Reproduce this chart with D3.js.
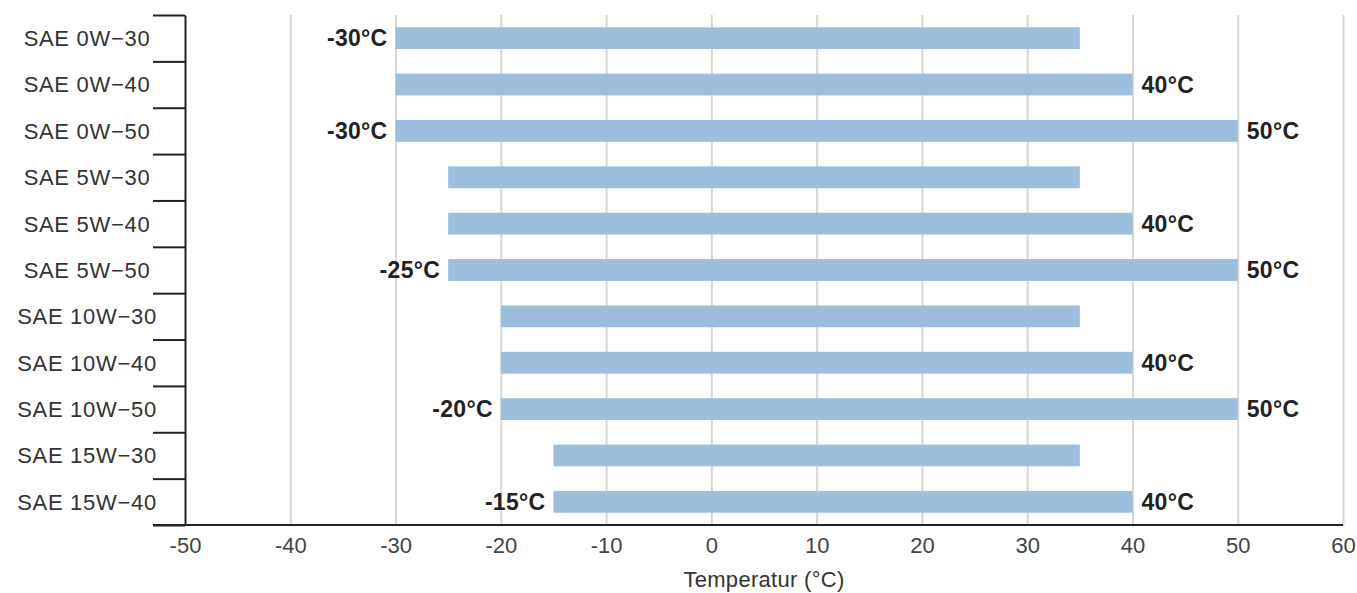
<!DOCTYPE html>
<html>
<head>
<meta charset="utf-8">
<script src="https://cdn.jsdelivr.net/npm/d3@7"></script>
<style>
  body { margin: 0; background: #fff; }
  text { font-family: "Liberation Sans", Arial, sans-serif; }
</style>
</head>
<body>
<svg id="mainsvg" width="1357" height="593"></svg>
<script>
// data
const grades = ['SAE 0W\u221230', 'SAE 0W\u221240', 'SAE 0W\u221250', 'SAE 5W\u221230', 'SAE 5W\u221240', 'SAE 5W\u221250',
  'SAE 10W\u221230', 'SAE 10W\u221240', 'SAE 10W\u221250', 'SAE 15W\u221230', 'SAE 15W\u221240']
const minTemp = [-30, -30, -30, -25, -25, -25, -20, -20, -20, -15, -15]
const maxTemp = [35, 40, 50, 35, 40, 50, 35, 40, 50, 35, 40]
const showMin = [true, false, true, false, false, true, false, false, true, false, true]
const showMax = [false, true, true, false, true, true, false, true, true, false, true]
const xTicks = [-50, -40, -30, -20, -10, 0, 10, 20, 30, 40, 50, 60]

const rows = grades.map((g, i) => ({ grade: g, lo: minTemp[i], hi: maxTemp[i], sLo: showMin[i], sHi: showMax[i] }))

const svg = d3.select('#mainsvg')
const margin = { top: 15, right: 14, left: 185, bottom: 68 }
const width = +svg.attr('width')
const height = +svg.attr('height')
const innerWidth = width - margin.left - margin.right
const innerHeight = height - margin.top - margin.bottom

const g = svg.append('g').attr('transform', `translate(${margin.left}, ${margin.top})`)

const x = d3.scaleLinear().domain([-50, 60]).range([0, innerWidth])
const y = d3.scaleBand().domain(grades).range([0, innerHeight]).paddingInner(0.53).paddingOuter(0.265)
const yEdge = d3.scaleLinear().domain([0, grades.length]).range([0, innerHeight])

// grid
const grid = g.append('g').call(d3.axisBottom(x).tickValues(xTicks.slice(1)).tickSize(innerHeight).tickFormat(''))
grid.select('.domain').remove()
grid.selectAll('text').remove()
grid.selectAll('line').attr('stroke', '#d6d6d6').attr('stroke-width', 2)

// bars
g.selectAll('rect.bar').data(rows).join('rect')
  .attr('class', 'bar')
  .attr('x', d => x(d.lo))
  .attr('width', d => x(d.hi) - x(d.lo))
  .attr('y', d => y(d.grade))
  .attr('height', y.bandwidth())
  .attr('fill', '#9dbedc')

// value labels
g.selectAll('text.lo').data(rows.filter(d => d.sLo)).join('text')
  .attr('class', 'lo')
  .attr('x', d => x(d.lo) - 8)
  .attr('y', d => y(d.grade) + y.bandwidth() / 2)
  .attr('dy', '0.36em')
  .attr('text-anchor', 'end')
  .attr('font-size', 23).attr('font-weight', 'bold').attr('fill', '#222')
  .attr('letter-spacing', 0.3)
  .text(d => d.lo + '°C')
g.selectAll('text.hi').data(rows.filter(d => d.sHi)).join('text')
  .attr('class', 'hi')
  .attr('x', d => x(d.hi) + 9)
  .attr('y', d => y(d.grade) + y.bandwidth() / 2)
  .attr('dy', '0.36em')
  .attr('font-size', 23).attr('font-weight', 'bold').attr('fill', '#222')
  .attr('letter-spacing', 0.3)
  .text(d => d.hi + '°C')

// y axis with ticks on band edges
const yAxis = g.append('g').call(d3.axisLeft(yEdge).ticks(grades.length).tickSize(32).tickSizeOuter(0).tickFormat(''))
yAxis.selectAll('text').remove()
yAxis.selectAll('line').attr('stroke', '#222').attr('stroke-width', 2)
yAxis.select('.domain').attr('stroke', '#222').attr('stroke-width', 2)

g.selectAll('text.cat').data(grades).join('text')
  .attr('class', 'cat')
  .attr('x', -98)
  .attr('y', d => y(d) + y.bandwidth() / 2)
  .attr('dy', '0.36em')
  .attr('text-anchor', 'middle')
  .attr('font-size', 22).attr('fill', '#333')
  .attr('letter-spacing', 0.7)
  .text(d => d)

// x axis
const xAxis = g.append('g').attr('transform', `translate(0, ${innerHeight})`)
  .call(d3.axisBottom(x).tickValues(xTicks).tickSize(0).tickPadding(12).tickFormat(d => String(d)))
xAxis.select('.domain').remove()
xAxis.selectAll('text').attr('font-size', 22).attr('fill', '#444')
g.append('line')
  .attr('x1', -32).attr('x2', innerWidth)
  .attr('y1', innerHeight).attr('y2', innerHeight)
  .attr('stroke', '#222').attr('stroke-width', 2)

g.append('text')
  .attr('x', x(5)).attr('y', innerHeight + 62)
  .attr('text-anchor', 'middle')
  .attr('font-size', 22).attr('fill', '#333')
  .attr('letter-spacing', 0.3)
  .text('Temperatur (°C)')
</script>
</body>
</html>
